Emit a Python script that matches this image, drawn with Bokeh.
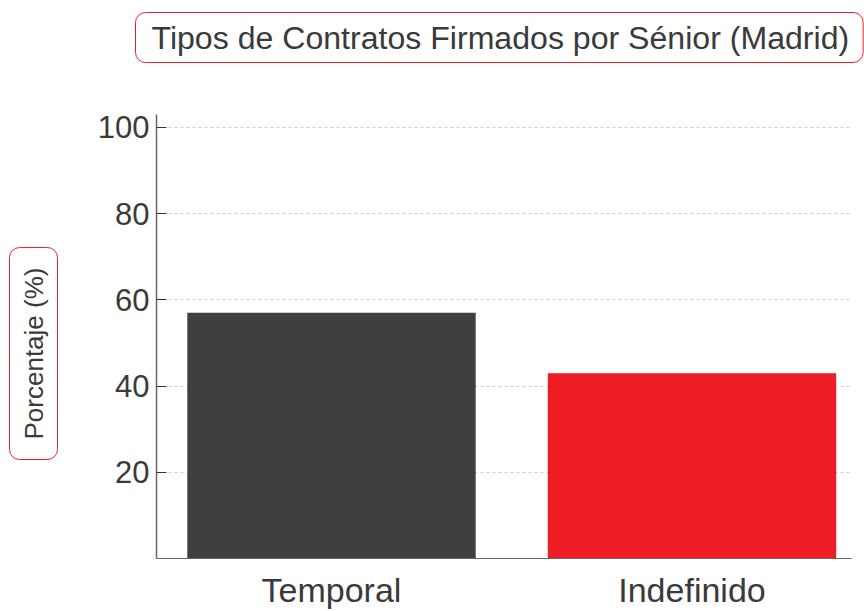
from bokeh.plotting import figure
from bokeh.models import Range1d, FixedTicker, Title, ColumnDataSource, LinearAxis
from bokeh.embed import file_html
from bokeh.resources import INLINE

categories = ["Temporal", "Indefinido"]
values = [57, 43]
colors = ["#3f3f3f", "#ee1c25"]
y_ticks = [20, 40, 60, 80, 100]

x = list(range(len(categories)))
src = ColumnDataSource(dict(x=x, top=values, color=colors))

FONT = "Liberation Sans"
TXT = "#3a3a3a"
RED = "#e8222a"

p = figure(width=864, height=611, output_backend="svg", toolbar_location=None,
           x_range=Range1d(-0.4854, 1.4424), y_range=Range1d(0, 103),
           min_border_left=156, min_border_right=13, min_border_top=114,
           min_border_bottom=53, title="Tipos de Contratos Firmados por Sénior (Madrid)")

p.vbar(x="x", top="top", width=0.8, fill_color="color", line_color=None, source=src)

p.outline_line_color = None
p.background_fill_color = "white"
p.border_fill_color = "white"

xa = p.below[0]
ya = p.left[0]


def spacer(size, tick):
    return LinearAxis(ticker=FixedTicker(ticks=[tick]), major_tick_out=size, major_tick_in=0,
                      major_tick_line_color=None, minor_tick_line_color=None,
                      axis_line_color=None, major_label_text_font_size="1px",
                      major_label_text_alpha=0, major_label_standoff=0)


p.add_layout(spacer(47, 0.5), "above")

p.title.align = "left"
p.title.offset = -21
p.title.text_font = FONT
p.title.text_font_size = "32.1px"
p.title.text_font_style = "normal"
p.title.text_color = TXT
p.title.border_line_color = RED
p.title.border_line_width = 1
p.title.border_radius = 10
p.title.padding = dict(left=16, right=14, top=7, bottom=7)
p.title.background_fill_color = "white"

p.add_layout(spacer(8, 50), "left")

ylab = Title(text="Porcentaje (%)", align="left", vertical_align="top", offset=99,
             text_font=FONT,
             text_font_size="26px", text_font_style="normal", text_color=TXT,
             border_line_color=RED, border_line_width=1, border_radius=10,
             padding=dict(left=20, right=20, top=9, bottom=9),
             background_fill_color="white")
p.add_layout(ylab, "left")

xa.ticker = FixedTicker(ticks=x)
xa.major_label_overrides = {i: c for i, c in zip(x, categories)}
xa.major_tick_line_color = None
xa.minor_tick_line_color = None
xa.axis_line_color = "#666666"
xa.major_label_text_font = FONT
xa.major_label_text_font_size = "34px"
xa.major_label_text_color = TXT
xa.major_label_standoff = 6

ya.ticker = FixedTicker(ticks=y_ticks)
ya.major_tick_in = 10
ya.major_tick_out = 0
ya.major_tick_line_color = "#333333"
ya.minor_tick_line_color = None
ya.axis_line_color = "#666666"
ya.axis_line_width = 1.5
ya.major_label_text_font = FONT
ya.major_label_text_font_size = "31px"
ya.major_label_text_color = TXT
ya.major_label_standoff = 7

p.xgrid.grid_line_color = None
p.ygrid.grid_line_color = "#cccccc"
p.ygrid.grid_line_dash = "3 3"

open("out.html", "w").write(file_html(p, INLINE))
